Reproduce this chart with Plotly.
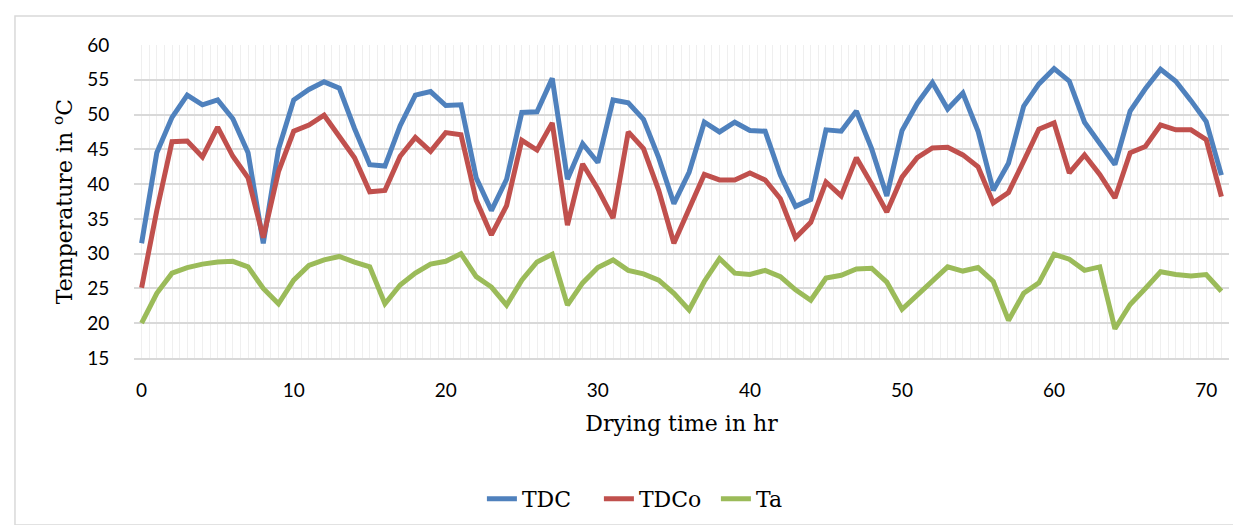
import plotly.graph_objects as go

hours = list(range(72))

tdc = [31.5, 44.5, 49.6, 52.8, 51.4, 52.1, 49.4, 44.5, 31.5, 45.0,
       52.1, 53.6, 54.7, 53.8, 48.0, 42.8, 42.6, 48.4, 52.8, 53.3,
       51.3, 51.4, 40.9, 36.2, 40.7, 50.3, 50.4, 55.2, 40.7, 45.8,
       43.1, 52.1, 51.7, 49.3, 43.8, 37.2, 41.7, 48.9, 47.5, 48.9,
       47.7, 47.6, 41.3, 36.8, 37.8, 47.8, 47.6, 50.5, 45.1, 38.3,
       47.7, 51.6, 54.6, 50.8, 53.1, 47.6, 39.1, 43.0, 51.2, 54.4,
       56.6, 54.8, 48.9, 45.8, 42.8, 50.5, 53.7, 56.5, 54.8, 52.0,
       49.0, 41.3]

tdco = [25.1, 36.2, 46.1, 46.2, 43.9, 48.2, 44.0, 40.9, 32.3, 41.8,
        47.6, 48.5, 49.9, 46.8, 43.8, 38.9, 39.1, 44.0, 46.7, 44.7,
        47.4, 47.1, 37.7, 32.7, 36.9, 46.3, 44.9, 48.8, 34.1, 42.9,
        39.3, 35.1, 47.5, 45.1, 39.1, 31.5, 36.6, 41.4, 40.6, 40.6,
        41.6, 40.6, 37.9, 32.3, 34.5, 40.3, 38.3, 43.8, 40.0, 36.0,
        41.0, 43.8, 45.2, 45.3, 44.2, 42.5, 37.3, 38.8, 43.3, 47.9,
        48.8, 41.6, 44.2, 41.4, 38.0, 44.5, 45.4, 48.5, 47.8, 47.8,
        46.4, 38.2]

ta = [20.0, 24.3, 27.2, 28.0, 28.5, 28.8, 28.9, 28.1, 25.0, 22.8,
      26.2, 28.3, 29.1, 29.6, 28.8, 28.1, 22.8, 25.5, 27.2, 28.5,
      28.9, 30.0, 26.7, 25.2, 22.6, 26.2, 28.8, 29.9, 22.6, 25.8,
      28.0, 29.1, 27.6, 27.1, 26.2, 24.3, 21.9, 26.0, 29.3, 27.2,
      27.0, 27.6, 26.7, 24.8, 23.3, 26.5, 26.9, 27.8, 27.9, 25.9,
      22.0, 24.0, 26.0, 28.1, 27.5, 28.0, 26.0, 20.4, 24.3, 25.8,
      29.9, 29.2, 27.6, 28.1, 19.2, 22.7, 25.0, 27.4, 27.0, 26.8,
      27.0, 24.6]

x_ticks = [0, 10, 20, 30, 40, 50, 60, 70]
y_ticks = [15, 20, 25, 30, 35, 40, 45, 50, 55, 60]

series = [("TDC", tdc, "#4F81BD"), ("TDCo", tdco, "#C0504D"), ("Ta", ta, "#9BBB59")]

fig = go.Figure()
for name, vals, color in series:
    fig.add_trace(go.Scatter(x=hours, y=vals, mode="lines", name=name,
                             line=dict(color=color, width=5)))

serif = "DejaVu Serif"
sans = "Lato"

fig.update_layout(
    width=1241, height=525,
    margin=dict(l=126, r=20, t=37, b=175),
    paper_bgcolor="white", plot_bgcolor="white",
    showlegend=True,
    legend=dict(orientation="h", x=0.478, xanchor="center", y=-0.45, yanchor="middle",
                font=dict(family=serif, size=22, color="#000000"),
                entrywidth=72, entrywidthmode="pixels", tracegroupgap=0),
    xaxis=dict(range=[-0.5, 71.5], tickvals=x_ticks, ticktext=[str(v) for v in x_ticks],
               ticks="outside", ticklen=14, tickcolor="rgba(0,0,0,0)",
               tickfont=dict(family=sans, size=19, color="#000000"),
               showgrid=True, gridcolor="#efefef", gridwidth=1.2,
               minor=dict(dtick=0.5, tick0=-0.5, showgrid=True, gridcolor="#efefef", gridwidth=1.2),
               showline=True, linecolor="#d9d9d9", linewidth=2, zeroline=False,
               title=dict(text="Drying time in hr", font=dict(family=serif, size=22, color="#000000"),
                          standoff=16)),
    yaxis=dict(range=[15, 60], tickvals=y_ticks,
               ticks="outside", ticklen=20, tickcolor="rgba(0,0,0,0)",
               tickfont=dict(family=sans, size=19, color="#000000"),
               showgrid=True, gridcolor="#d9d9d9", gridwidth=2, zeroline=False, showline=False,
               title=dict(text="Temperature in <sup>o</sup>C", font=dict(family=serif, size=22, color="#000000"),
                          standoff=8)),
    shapes=[dict(type="rect", xref="paper", yref="paper",
                 x0=-0.1087, x1=1.011, y0=-0.5335, y1=1.0927,
                 line=dict(color="#d9d9d9", width=1.5), fillcolor="rgba(0,0,0,0)", layer="below")],
)

fig.write_html("out.html")
